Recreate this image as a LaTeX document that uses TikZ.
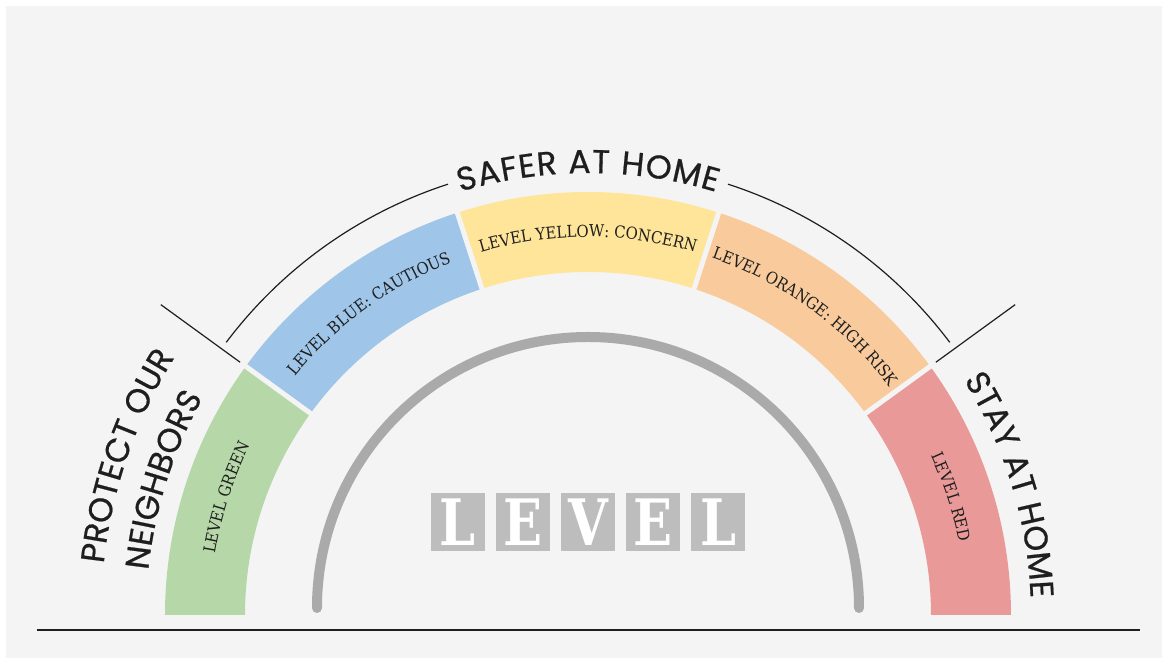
\documentclass[tikz,border=0pt]{standalone}
\usepackage{fontspec}
\usepackage{tikz}
\usetikzlibrary{decorations.text}

\newfontfamily\signfont[FakeBold=0.6]{Poppins}
\newfontfamily\bandfont[FakeStretch=0.9]{DejaVu Serif}
\newfontfamily\boxfont[FakeStretch=0.8]{DejaVu Serif}
\newcommand{\signtext}{\signfont\fontsize{33}{33}\selectfont}
\newcommand{\bandtext}{\bandfont\fontsize{16.5}{16.5}\selectfont}

\definecolor{bgcol}{HTML}{F4F4F4}
\definecolor{inkcol}{HTML}{1E1E1E}
\definecolor{levelgreen}{HTML}{B6D7A8}
\definecolor{levelblue}{HTML}{9FC5E8}
\definecolor{levelyellow}{HTML}{FFE599}
\definecolor{levelorange}{HTML}{F9CB9C}
\definecolor{levelred}{HTML}{EA9999}
\definecolor{arcgray}{HTML}{AAAAAA}
\definecolor{boxgray}{HTML}{BDBDBD}

% label along a band, centred on its middle angle
\newcommand{\bandlabel}[2]{%
  \path[decorate,decoration={text along path,text align=center,
    text color=inkcol,text={|\bandtext|#2}}]
    ({#1+18}:378) arc[start angle={#1+18},end angle={#1-18},radius=378];}
% big label stretched over an arc
\newcommand{\signlabel}[4]{%
  \path[decorate,decoration={text along path,text align={fit to path},
    text color=inkcol,text={|\signtext|#4}}]
    (#1:#3) arc[start angle=#1,end angle=#2,radius=#3];}

\begin{document}
\begin{tikzpicture}[x=1pt,y=1pt,
    levelbox/.style={fill=boxgray,minimum width=54pt,minimum height=58pt,
      inner sep=0pt,text=white,font=\boxfont\bfseries\fontsize{64}{64}\selectfont}]
  % Background
  \fill[white] (-588,-43) rectangle (574,615);
  \fill[bgcol] (-582,-43) rectangle (574,609);
  \useasboundingbox (-588,-43) rectangle (574,615);
  % Bands
  \foreach \a/\col in {144/levelgreen,108/levelblue,72/levelyellow,36/levelorange,0/levelred}
    \fill[\col] (\a:343) arc[start angle=\a,end angle={\a+36},radius=343]
      -- ({\a+36}:423) arc[start angle={\a+36},end angle=\a,radius=423] -- cycle;
  % Gaps between bands
  \foreach \a in {36,72,108,144}
    \draw[bgcol,line width=5] (\a:338) -- (\a:428);
  % Band labels
  \bandlabel{162}{LEVEL GREEN}
  \bandlabel{126}{LEVEL BLUE: CAUTIOUS}
  \bandlabel{90}{LEVEL YELLOW: CONCERN}
  \bandlabel{54}{LEVEL ORANGE: HIGH RISK}
  \bandlabel{18}{LEVEL RED}
  % Inner gray arc
  \draw[arcgray,line width=10,line cap=round] (-271,7) arc[start angle=180,end angle=0,radius=271];
  % Outer thin arc and dividers
  \draw[inkcol,line width=1.2] (37:453) arc[start angle=37,end angle=72,radius=453];
  \draw[inkcol,line width=1.2] (108:453) arc[start angle=108,end angle=143,radius=453];
  \draw[inkcol,line width=1.2] (144:430) -- (144:528);
  \draw[inkcol,line width=1.2] (36:430) -- (36:528);
  % Big labels
  \signlabel{106.8}{73.2}{442}{SAFER AT HOME}
  \signlabel{32}{3.2}{443}{STAY AT HOME}
  \signlabel{174.2}{151}{442}{NEIGHBORS}
  \path[decorate,decoration={text along path,text align=center,
    text color=inkcol,text={|\signtext|PROTECT OUR}}]
    (179:487) arc[start angle=179,end angle=143,radius=487];
  % LEVEL boxes
  \foreach \l [count=\i] in {L,E,V,E,L}
    \node[levelbox] (box\i) at ({-130+(\i-1)*65},93) {\l};
  % Ground line
  \draw[inkcol,line width=1.6] (-551,-15) -- (552,-15);
\end{tikzpicture}
\end{document}
